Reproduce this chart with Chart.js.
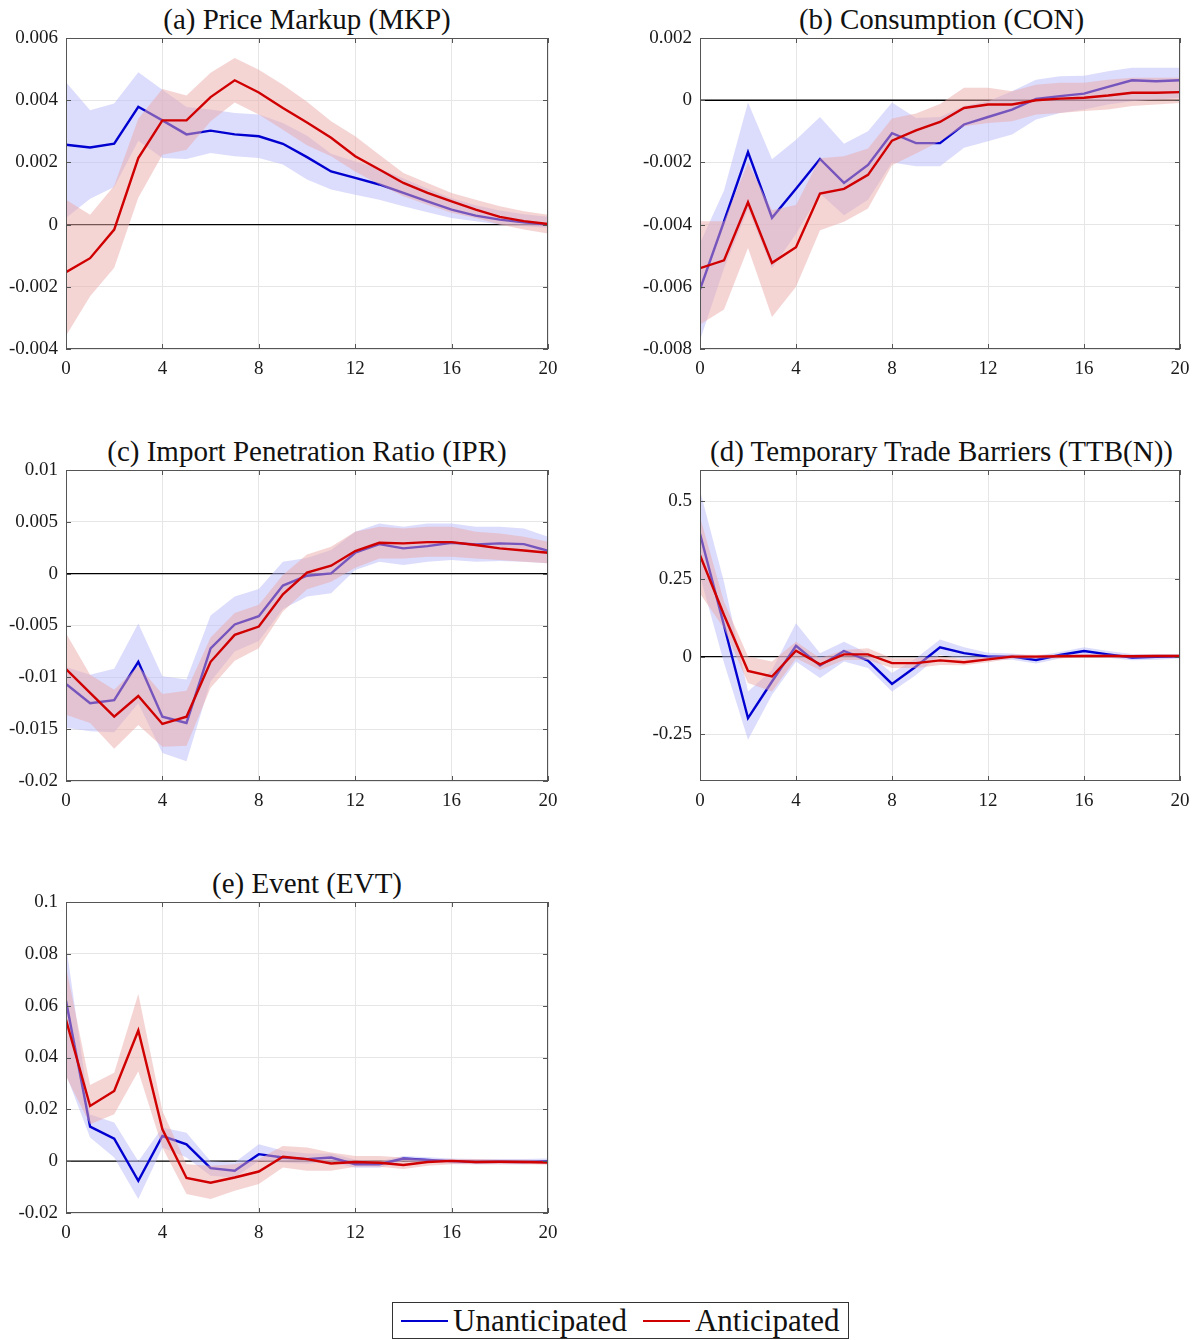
<!DOCTYPE html>
<html>
<head>
<meta charset="utf-8">
<script src="https://cdn.jsdelivr.net/npm/chart.js@4.4.1/dist/chart.umd.min.js"></script>
<style>
  body { margin:0; background:#fff; width:1202px; height:1340px; position:relative; overflow:hidden; font-family:'Liberation Serif', serif; }
  canvas { position:absolute; }
  .title { position:absolute; text-align:center; font-size:29px; color:#111; line-height:1; white-space:nowrap; }
  #legend { position:absolute; left:392px; top:1302px; width:455px; height:35px; border:1px solid #333;
            display:flex; align-items:center; font-size:31px; color:#111; box-sizing:content-box; }
  #legend .sw { display:inline-block; width:47px; height:2px; margin:0 5px 0 8px; }
</style>
</head>
<body>

<div class="title" style="left:66px;top:5px;width:482px">(a) Price Markup (MKP)</div>
<div class="title" style="left:700px;top:5px;width:483px">(b) Consumption (CON)</div>
<div class="title" style="left:66px;top:437px;width:482px">(c) Import Penetration Ratio (IPR)</div>
<div class="title" style="left:700px;top:437px;width:483px">(d) Temporary Trade Barriers (TTB(N))</div>
<div class="title" style="left:66px;top:869px;width:482px">(e) Event (EVT)</div>

<canvas id="mkp" style="left:0;top:0" width="570" height="390"></canvas>
<canvas id="con" style="left:634px;top:0" width="568" height="390"></canvas>
<canvas id="ipr" style="left:0;top:432px" width="570" height="390"></canvas>
<canvas id="ttb" style="left:634px;top:432px" width="568" height="390"></canvas>
<canvas id="evt" style="left:0;top:864px" width="570" height="390"></canvas>

<div id="legend">
  <span class="sw" style="background:#0000d0"></span><span>Unanticipated</span>
  <span class="sw" style="background:#d00000;margin-left:16px"></span><span>Anticipated</span>
</div>

<script>
// horizons 0..20
const horizon = [0,1,2,3,4,5,6,7,8,9,10,11,12,13,14,15,16,17,18,19,20];

// (a) price markup, values in thousandths
const mkpUnant   = [2.57,2.48,2.60,3.79,3.35,2.90,3.02,2.90,2.84,2.60,2.17,1.71,1.50,1.29,1.02,0.75,0.48,0.29,0.16,0.07,0.00];
const mkpUnantHi = [4.58,3.68,3.89,4.90,4.34,3.78,3.70,3.59,3.54,3.27,2.86,2.28,2.03,1.80,1.48,1.15,0.85,0.62,0.45,0.33,0.25];
const mkpUnantLo = [0.21,0.83,1.21,2.70,2.14,2.11,2.30,2.20,2.14,1.93,1.45,1.13,0.96,0.80,0.59,0.40,0.21,0.11,0.00,-0.05,-0.10];
const mkpAnt     = [-1.53,-1.08,-0.16,2.14,3.35,3.35,4.10,4.64,4.25,3.75,3.28,2.79,2.20,1.77,1.34,1.02,0.75,0.48,0.25,0.11,0.02];
const mkpAntHi   = [0.80,0.32,1.25,3.40,4.36,4.15,4.88,5.36,4.98,4.50,3.95,3.32,2.84,2.25,1.66,1.34,1.02,0.80,0.59,0.43,0.32];
const mkpAntLo   = [-3.57,-2.30,-1.39,0.86,2.25,2.41,3.32,3.93,3.54,3.05,2.55,2.20,1.71,1.29,0.91,0.64,0.38,0.21,0.00,-0.16,-0.29];

// (b) consumption, thousandths
const conUnant   = [-6.08,-3.90,-1.67,-3.78,-2.85,-1.89,-2.66,-2.08,-1.06,-1.38,-1.38,-0.78,-0.54,-0.30,0.04,0.13,0.21,0.43,0.64,0.61,0.64];
const conUnantHi = [-4.60,-2.90,-0.07,-1.90,-1.27,-0.54,-1.40,-1.00,-0.07,-0.57,-0.54,-0.19,-0.03,0.29,0.66,0.77,0.79,0.93,1.04,1.04,1.04];
const conUnantLo = [-7.72,-5.40,-3.50,-5.40,-4.30,-3.00,-3.70,-3.20,-2.00,-2.12,-2.12,-1.53,-1.32,-1.10,-0.62,-0.41,-0.30,-0.14,-0.03,0.02,0.08];
const conAnt     = [-5.40,-5.15,-3.28,-5.23,-4.73,-3.00,-2.85,-2.40,-1.30,-0.97,-0.70,-0.25,-0.14,-0.14,0.00,0.05,0.08,0.15,0.24,0.24,0.26];
const conAntHi   = [-3.89,-3.89,-2.00,-3.54,-3.37,-1.87,-1.80,-1.55,-0.59,-0.43,-0.12,0.40,0.40,0.29,0.50,0.56,0.56,0.66,0.72,0.72,0.72];
const conAntLo   = [-7.21,-6.73,-4.75,-6.97,-6.00,-4.18,-3.91,-3.48,-2.09,-1.71,-1.32,-0.84,-0.73,-0.68,-0.46,-0.41,-0.35,-0.30,-0.19,-0.14,-0.09];

// (c) import penetration ratio, thousandths
const iprUnant   = [-10.64,-12.5,-12.2,-8.5,-13.8,-14.4,-7.2,-4.9,-4.1,-1.15,-0.2,0.03,2.02,2.85,2.44,2.66,2.98,2.82,2.92,2.85,2.21];
const iprUnantHi = [-9.0,-9.74,-9.17,-4.8,-9.9,-10.2,-4.04,-2.2,-1.47,1.15,1.5,2.28,4.04,4.84,4.52,4.84,4.84,4.52,4.52,4.36,3.56];
const iprUnantLo = [-14.87,-15.2,-15.3,-12.5,-17.3,-18.1,-10.4,-7.5,-6.5,-3.4,-2.2,-1.9,0.35,1.15,0.83,1.15,1.31,1.15,1.22,1.15,1.0];
const iprAnt     = [-9.2,-11.5,-13.8,-11.8,-14.5,-13.8,-8.5,-5.9,-5.1,-2.0,0.1,0.77,2.18,2.98,2.92,3.04,3.04,2.76,2.44,2.24,2.02];
const iprAntHi   = [-5.74,-9.74,-11.2,-8.9,-11.6,-11.3,-6.15,-3.8,-3.0,-0.13,1.85,2.6,4.04,4.52,4.36,4.52,4.52,4.04,3.88,3.56,3.08];
const iprAntLo   = [-13.6,-14.4,-16.9,-14.6,-16.7,-16.6,-11.0,-8.4,-7.2,-3.65,-1.5,-0.77,0.58,1.47,1.47,1.63,1.63,1.47,1.31,1.15,1.0];

// (d) temporary trade barriers
const ttbUnant   = [0.395,0.10,-0.198,-0.08,0.035,-0.029,0.018,-0.013,-0.088,-0.032,0.03,0.011,0,0,-0.011,0.005,0.018,0.007,-0.003,-0.001,0.001];
const ttbUnantHi = [0.534,0.24,-0.112,-0.043,0.107,0.011,0.048,0.011,-0.053,-0.005,0.055,0.03,0.012,0.01,0.002,0.015,0.03,0.018,0.008,0.008,0.008];
const ttbUnantLo = [0.26,-0.02,-0.267,-0.123,-0.016,-0.069,-0.016,-0.037,-0.112,-0.059,0.005,-0.008,-0.012,-0.01,-0.022,-0.006,0.006,-0.004,-0.012,-0.01,-0.006];
const ttbAnt     = [0.326,0.134,-0.046,-0.064,0.019,-0.025,0.007,0.007,-0.021,-0.021,-0.012,-0.018,-0.009,0,0,0.001,0.002,0.002,0.001,0.002,0.002];
const ttbAntHi   = [0.449,0.176,0.0,-0.016,0.048,-0.005,0.021,0.027,-0.005,-0.005,0.0,-0.008,0.0,0.007,0.006,0.007,0.007,0.007,0.006,0.007,0.007];
const ttbAntLo   = [0.203,0.09,-0.085,-0.112,-0.005,-0.043,-0.011,-0.011,-0.037,-0.037,-0.027,-0.028,-0.018,-0.007,-0.006,-0.005,-0.003,-0.003,-0.004,-0.003,-0.003];
const ttbTicks   = [-0.25, 0, 0.25, 0.5];

// (e) event
const evtUnant   = [0.0619,0.0133,0.0087,-0.0076,0.0097,0.0065,-0.0027,-0.0037,0.0027,0.0014,0.0008,0.0014,-0.0012,-0.0012,0.001,0.0005,0.0,-0.0003,-0.0002,-0.0003,0.0];
const evtUnantHi = [0.0835,0.018,0.0149,0.0,0.013,0.011,0.0,-0.0005,0.0065,0.004,0.003,0.003,0.0005,0.0,0.002,0.0015,0.001,0.0008,0.0008,0.0008,0.001];
const evtUnantLo = [0.0335,0.0091,0.0014,-0.0146,0.0053,0.0014,-0.0056,-0.0063,0.0001,-0.0005,-0.001,-0.0003,-0.0025,-0.0025,0.0,-0.0005,-0.001,-0.0012,-0.0012,-0.0012,-0.001];
const evtAnt     = [0.0545,0.0213,0.0271,0.0504,0.0123,-0.0065,-0.0083,-0.0063,-0.004,0.0017,0.0008,-0.0009,-0.0003,-0.0006,-0.0015,-0.0003,0.0001,-0.0003,-0.0002,-0.0003,-0.0005];
const evtAntHi   = [0.075,0.0294,0.0341,0.0645,0.0194,-0.0012,-0.0018,-0.0012,0.0008,0.0059,0.0053,0.0033,0.002,0.002,0.0014,0.0008,0.0008,0.0008,0.0005,0.0005,0.0004];
const evtAntLo   = [0.0328,0.0142,0.0181,0.0347,0.0053,-0.0127,-0.0146,-0.0114,-0.0088,-0.0024,-0.0037,-0.0037,-0.0022,-0.0022,-0.003,-0.0018,-0.0012,-0.0012,-0.0012,-0.0012,-0.0014];

const blue = '#0000d0', red = '#d00000';
const blueBand = 'rgba(185,185,250,0.5)', redBand = 'rgba(235,170,170,0.5)';
const tickFont = {family: 'Liberation Serif', size: 19};

// zero line under the bands, frame and inward ticks on top
const frame = {
    id: 'frame',
    beforeDatasetsDraw(chart) {
        const {ctx, chartArea: a, scales: {y}} = chart;
        const y0 = y.getPixelForValue(0);
        ctx.save();
        ctx.strokeStyle = '#000';
        ctx.lineWidth = 1.4;
        ctx.beginPath(); ctx.moveTo(a.left, y0); ctx.lineTo(a.right, y0); ctx.stroke();
        ctx.restore();
    },
    afterDatasetsDraw(chart) {
        const {ctx, chartArea: a, scales: {x, y}} = chart;
        ctx.save();
        ctx.strokeStyle = '#555';
        ctx.lineWidth = 1;
        ctx.strokeRect(a.left + 0.5, a.top + 0.5, a.right - a.left - 1, a.bottom - a.top - 1);
        ctx.beginPath();
        x.ticks.forEach(t => {
            const px = Math.round(x.getPixelForValue(t.value)) + 0.5;
            ctx.moveTo(px, a.bottom); ctx.lineTo(px, a.bottom - 5);
            ctx.moveTo(px, a.top); ctx.lineTo(px, a.top + 5);
        });
        y.ticks.forEach(t => {
            const py = Math.round(y.getPixelForValue(t.value)) + 0.5;
            ctx.moveTo(a.left, py); ctx.lineTo(a.left + 5, py);
            ctx.moveTo(a.right, py); ctx.lineTo(a.right - 5, py);
        });
        ctx.stroke();
        ctx.restore();
    }
};

function pts(vals, scale) {
    return vals.map((v, i) => ({x: horizon[i], y: v * scale}));
}

function bandSets(mid, lo, hi, scale, lineColor, bandColor) {
    return [
        {data: pts(mid, scale), borderColor: lineColor, borderWidth: 2.4, fill: false},
        {data: pts(hi, scale), borderColor: 'rgba(0,0,0,0)', borderWidth: 0, backgroundColor: bandColor, fill: '+1'},
        {data: pts(lo, scale), borderColor: 'rgba(0,0,0,0)', borderWidth: 0, fill: false}
    ];
}

function makePanel(id, ant, antLo, antHi, unant, unantLo, unantHi, scale, yMin, yMax, yStep, fixedTicks) {
    const yAxis = {
        min: yMin, max: yMax,
        ticks: {stepSize: yStep, padding: 8, color: '#1a1a1a', font: tickFont,
                callback: v => String(+Number(v).toFixed(6))},
        grid: {color: '#e6e6e6', drawTicks: false},
        border: {display: false},
        afterFit(s) { s.width = 66; }
    };
    if (fixedTicks) {
        yAxis.afterBuildTicks = s => { s.ticks = fixedTicks.map(v => ({value: v})); };
    }
    new Chart(document.getElementById(id), {
        type: 'line',
        data: {
            datasets: [
                ...bandSets(ant, antLo, antHi, scale, red, redBand),
                ...bandSets(unant, unantLo, unantHi, scale, blue, blueBand)
            ]
        },
        options: {
            responsive: false,
            animation: false,
            elements: {point: {radius: 0}, line: {tension: 0}},
            layout: {padding: {top: 38, right: 22, left: 0, bottom: 0}},
            plugins: {legend: {display: false}, tooltip: {enabled: false}},
            scales: {
                x: {
                    type: 'linear', min: 0, max: 20,
                    ticks: {stepSize: 4, padding: 9, color: '#1a1a1a', font: tickFont, maxRotation: 0},
                    grid: {color: '#e6e6e6', drawTicks: false},
                    border: {display: false},
                    afterFit(s) { s.height = 41; }
                },
                y: yAxis
            }
        },
        plugins: [frame]
    });
}

Chart.defaults.font.family = 'Liberation Serif';

makePanel('mkp', mkpAnt, mkpAntLo, mkpAntHi, mkpUnant, mkpUnantLo, mkpUnantHi, 0.001, -0.004, 0.006, 0.002);
makePanel('con', conAnt, conAntLo, conAntHi, conUnant, conUnantLo, conUnantHi, 0.001, -0.008, 0.002, 0.002);
makePanel('ipr', iprAnt, iprAntLo, iprAntHi, iprUnant, iprUnantLo, iprUnantHi, 0.001, -0.02, 0.01, 0.005);
makePanel('ttb', ttbAnt, ttbAntLo, ttbAntHi, ttbUnant, ttbUnantLo, ttbUnantHi, 1, -0.4, 0.6, 0.25, ttbTicks);
makePanel('evt', evtAnt, evtAntLo, evtAntHi, evtUnant, evtUnantLo, evtUnantHi, 1, -0.02, 0.1, 0.02);
</script>
</body>
</html>
